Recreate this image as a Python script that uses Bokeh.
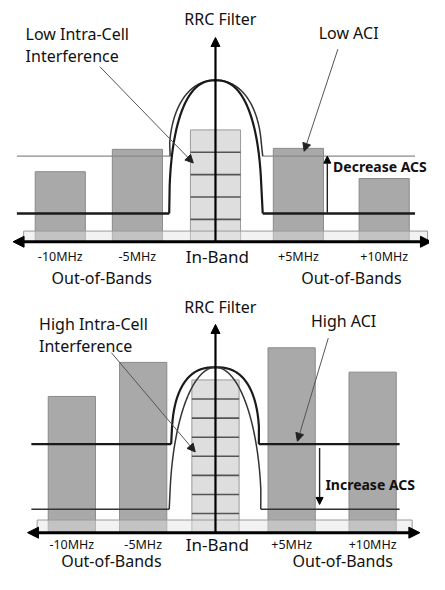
import numpy as np
from bokeh.plotting import figure
from bokeh.models import Range1d, Arrow, NormalHead
from bokeh.core.properties import value
from bokeh.embed import file_html
from bokeh.resources import INLINE

# ---------------- data (power levels above the frequency axis) ----------------
band_labels = ["-10MHz", "-5MHz", "In-Band", "+5MHz", "+10MHz"]
top_levels = [72, 95, 115, 96, 65]          # low ACI case
bottom_levels = [140, 175, 157, 190, 165]   # high ACI case
top_cells = 5                                # users stacked in-band
bottom_cells = 8
top_floor_high, top_floor_low, top_peak = 88, 29, 166
bottom_floor_high, bottom_floor_low, bottom_peak = 91, 24, 170

# ---------------- layout ----------------
W, H = 445, 590
FONT = value("Noto Sans")
p = figure(width=429, height=574, x_range=Range1d(0, W), y_range=Range1d(H, 0),
           output_backend="svg", toolbar_location=None, min_border=0)
p.axis.visible = False
p.grid.visible = False
p.outline_line_color = None
p.background_fill_color = "white"

# floors: (level, floor colour, floor width, curve colour, curve width, x_left, x_right, exponent, half width)
panels = [
    dict(base=248, centers=[62, 142, 223, 309, 398], bw=52, levels=top_levels,
         cells=top_cells, strip=(24, 443, 11), axis=(13, 447), fl=(17, 430),
         floors=[(top_floor_high, "#8a8a8a", 1.3, "#333333", 1.5, 176, 272, 2.2, 48),
                 (top_floor_low, "#1a1a1a", 2.6, "#1a1a1a", 2.2, 175, 272, 2.4, 48)],
         peak=top_peak, rrc_top=38,
         title_y=19, lab1=("Low Intra-Cell", 26, 34), lab2=("Interference", 26, 57),
         aci=("Low ACI", 330, 33),
         p1=(103, 68, 200, 167), p2=(350, 50, 315, 155),
         acs=("Decrease ACS", 345, 171, 339, "up"),
         tick_y=263, oob=[(105, 285), (364, 285)]),
    dict(base=547, centers=[74, 148, 223, 302, 386], bw=49, levels=bottom_levels,
         cells=bottom_cells, strip=(38, 427, 13), axis=(28, 435), fl=(32, 414),
         floors=[(bottom_floor_high, "#1a1a1a", 2.4, "#1a1a1a", 2.2, 177, 268, 2.5, 45.5),
                 (bottom_floor_low, "#333333", 1.6, "#333333", 1.5, 175, 270, 2.0, 47.5)],
         peak=bottom_peak, rrc_top=333,
         title_y=315, lab1=("High Intra-Cell", 40, 333), lab2=("Interference", 40, 355),
         aci=("High ACI", 322, 329),
         p1=(115, 362, 202, 464), p2=(340, 347, 308, 453),
         acs=("Increase ACS", 337, 497, 331, "down"),
         tick_y=559, oob=[(115, 576), (355, 576)]),
]

for pn in panels:
    base = pn["base"]
    bw = pn["bw"]
    # out-of-band bars
    oob_idx = [0, 1, 3, 4]
    xs = [pn["centers"][i] for i in oob_idx]
    lv = [pn["levels"][i] for i in oob_idx]
    p.quad(left=[x - bw / 2 for x in xs], right=[x + bw / 2 for x in xs],
           top=[base - v for v in lv], bottom=[base] * len(xs),
           fill_color="#a9a9a9", line_color="#8a8a8a", line_width=1)
    # in-band block with stacked users
    cx = pn["centers"][2]
    ib = pn["levels"][2]
    p.quad(left=[cx - bw / 2], right=[cx + bw / 2], top=[base - ib], bottom=[base],
           fill_color="#dedede", line_color="#999999", line_width=1)
    n = pn["cells"]
    ys = [base - ib * k / n for k in range(1, n)]
    p.segment(x0=[cx - bw / 2] * len(ys), x1=[cx + bw / 2] * len(ys), y0=ys, y1=ys,
              line_color="#555555", line_width=1.6)
    # base strip
    sl, sr, sh = pn["strip"]
    p.quad(left=[sl], right=[sr], top=[base - sh], bottom=[base],
           fill_color="#e2e2e2", fill_alpha=0.45, line_color="#9a9a9a", line_width=1)
    # filter masks with floors
    for lvl, fcol, flw, ccol, clw, xl, xr, nexp, hw in pn["floors"]:
        yf = base - lvl
        p.segment(x0=[pn["fl"][0], xr], x1=[xl, pn["fl"][1]], y0=[yf, yf], y1=[yf, yf],
                  line_color=fcol, line_width=flw)
        u = np.linspace(-1, 1, 201)
        h = (1 - np.abs(u) ** nexp) ** (1 / nexp)
        cxs = cx + hw * u
        lvls = lvl + (pn["peak"] - lvl) * h
        px = [xl] + list(cxs[1:-1]) + [xr]
        py = [yf] + list(base - lvls[1:-1]) + [yf]
        p.line(px, py, line_color=ccol, line_width=clw)
    # frequency axis (double arrow)
    a0, a1 = pn["axis"]
    p.add_layout(Arrow(x_start=a0, y_start=base, x_end=a1, y_end=base,
                       line_width=3, line_color="black",
                       start=NormalHead(size=11, fill_color="black", line_color="black"),
                       end=NormalHead(size=11, fill_color="black", line_color="black")))
    # RRC filter arrow
    p.add_layout(Arrow(x_start=cx, y_start=base, x_end=cx, y_end=pn["rrc_top"],
                       line_width=2.2, line_color="black",
                       end=NormalHead(size=9, fill_color="black", line_color="black")))
    # pointer arrows
    for (x0, y0, x1, y1) in (pn["p1"], pn["p2"]):
        p.add_layout(Arrow(x_start=x0, y_start=y0, x_end=x1, y_end=y1,
                           line_width=1, line_color="#555555",
                           end=NormalHead(size=8, fill_color="#222222", line_color="#222222")))
    # ACS arrow
    txt, tx, ty, ax, direction = pn["acs"]
    lv_hi = max(f[0] for f in pn["floors"])
    lv_lo = min(f[0] for f in pn["floors"])
    if direction == "up":
        ys0, ys1 = base - lv_lo, base - lv_hi
    else:
        ys0, ys1 = base - lv_hi + 4, base - lv_lo - 5
    p.add_layout(Arrow(x_start=ax, y_start=ys0, x_end=ax, y_end=ys1,
                       line_width=1.4, line_color="#222222",
                       end=NormalHead(size=7, fill_color="black", line_color="black")))
    p.text(x=[tx], y=[ty], text=[txt], text_font=FONT, text_font_size=value("14px"),
           text_font_style="bold", text_align="left", text_baseline="middle",
           text_color="#111111")
    # titles / annotations
    p.text(x=[cx + 5], y=[pn["title_y"]], text=["RRC Filter"], text_font=FONT,
           text_font_size=value("16px"), text_align="center", text_baseline="middle",
           text_color="#111111")
    for (t, x, y) in (pn["lab1"], pn["lab2"], pn["aci"]):
        p.text(x=[x], y=[y], text=[t], text_font=FONT, text_font_size=value("16px"),
               text_align="left", text_baseline="middle", text_color="#111111")
    # band tick labels
    small = [0, 1, 3, 4]
    p.text(x=[pn["centers"][i] for i in small], y=[pn["tick_y"]] * 4,
           text=[band_labels[i] for i in small], text_font=FONT,
           text_font_size=value("12.5px"), text_align="center", text_baseline="middle",
           text_color="#111111")
    p.text(x=[cx + 2], y=[pn["tick_y"]], text=[band_labels[2]], text_font=FONT,
           text_font_size=value("17px"), text_align="center", text_baseline="middle",
           text_color="#111111")
    p.text(x=[o[0] for o in pn["oob"]], y=[o[1] for o in pn["oob"]],
           text=["Out-of-Bands"] * 2, text_font=FONT, text_font_size=value("16px"),
           text_align="center", text_baseline="middle", text_color="#111111")

open("out.html", "w").write(file_html(p, INLINE))
